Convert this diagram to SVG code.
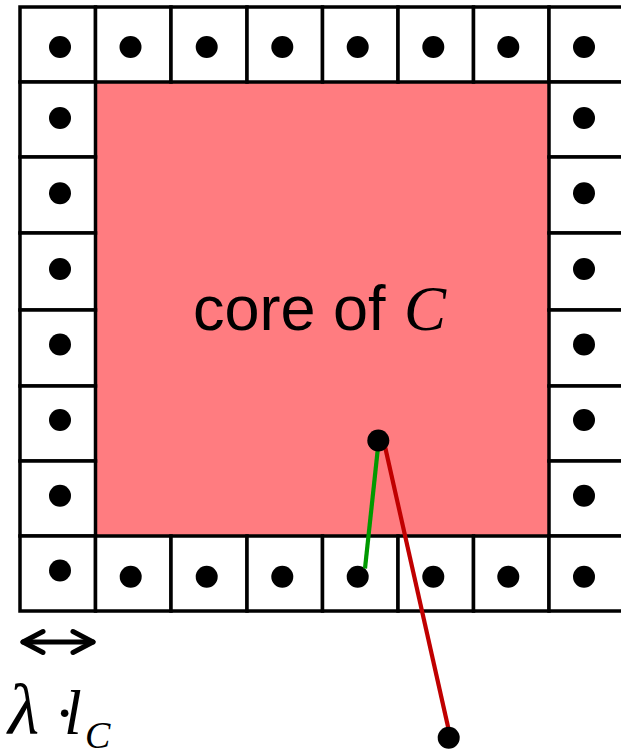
<svg xmlns="http://www.w3.org/2000/svg" width="621" height="750" viewBox="0 0 621 750">
<style>
.cell{fill:#fff;stroke:#000;stroke-width:3.5}
.dot{fill:#000}
.lbl{font-family:"Liberation Sans",Arial,sans-serif;fill:#000}
.math{font-family:"Liberation Serif","Times New Roman",serif;font-style:italic;fill:#000}
</style>
<defs>
<marker id="chev" viewBox="-26 -14 30 28" markerWidth="30" markerHeight="28" refX="0" refY="0" orient="auto-start-reverse" markerUnits="userSpaceOnUse">
<path d="M-20,-10.5 L0,0 L-20,10.5" fill="none" stroke="#000" stroke-width="5" stroke-linecap="round" stroke-linejoin="round"/>
</marker>
</defs>
<rect width="621" height="750" fill="#fff"/>
<g id="core">
<rect x="95.5" y="82" width="453.5" height="454" fill="#ff7c80"/>
<text class="lbl" x="193" y="330" font-size="63">core of <tspan class="math" x="404">C</tspan></text>
</g>
<g id="cells">
<g id="t1"><rect class="cell" x="20" y="7" width="75.5" height="75"/><circle class="dot" cx="60" cy="47" r="11"/></g>
<g id="t2"><rect class="cell" x="95.5" y="7" width="75.5" height="75"/><circle class="dot" cx="130.5" cy="47" r="11"/></g>
<g id="t3"><rect class="cell" x="171" y="7" width="76" height="75"/><circle class="dot" cx="206.7" cy="47" r="11"/></g>
<g id="t4"><rect class="cell" x="247" y="7" width="75.5" height="75"/><circle class="dot" cx="282.3" cy="47" r="11"/></g>
<g id="t5"><rect class="cell" x="322.5" y="7" width="75.5" height="75"/><circle class="dot" cx="357.7" cy="47" r="11"/></g>
<g id="t6"><rect class="cell" x="398" y="7" width="75.5" height="75"/><circle class="dot" cx="433.3" cy="47" r="11"/></g>
<g id="t7"><rect class="cell" x="473.5" y="7" width="75.5" height="75"/><circle class="dot" cx="508.3" cy="47" r="11"/></g>
<g id="t8"><rect class="cell" x="549" y="7" width="76" height="75"/><circle class="dot" cx="584" cy="47" r="11"/></g>
<g id="l2"><rect class="cell" x="20" y="82" width="75.5" height="75"/><circle class="dot" cx="60" cy="118" r="11"/></g>
<g id="l3"><rect class="cell" x="20" y="157" width="75.5" height="76"/><circle class="dot" cx="60" cy="193.3" r="11"/></g>
<g id="l4"><rect class="cell" x="20" y="233" width="75.5" height="77"/><circle class="dot" cx="60" cy="269" r="11"/></g>
<g id="l5"><rect class="cell" x="20" y="310" width="75.5" height="76"/><circle class="dot" cx="60" cy="344.5" r="11"/></g>
<g id="l6"><rect class="cell" x="20" y="386" width="75.5" height="75"/><circle class="dot" cx="60" cy="420" r="11"/></g>
<g id="l7"><rect class="cell" x="20" y="461" width="75.5" height="75"/><circle class="dot" cx="60" cy="495.7" r="11"/></g>
<g id="r2"><rect class="cell" x="549" y="82" width="76" height="75"/><circle class="dot" cx="584" cy="118" r="11"/></g>
<g id="r3"><rect class="cell" x="549" y="157" width="76" height="76"/><circle class="dot" cx="584" cy="193.3" r="11"/></g>
<g id="r4"><rect class="cell" x="549" y="233" width="76" height="77"/><circle class="dot" cx="584" cy="269" r="11"/></g>
<g id="r5"><rect class="cell" x="549" y="310" width="76" height="76"/><circle class="dot" cx="584" cy="344.5" r="11"/></g>
<g id="r6"><rect class="cell" x="549" y="386" width="76" height="75"/><circle class="dot" cx="584" cy="420" r="11"/></g>
<g id="r7"><rect class="cell" x="549" y="461" width="76" height="75"/><circle class="dot" cx="584" cy="495.7" r="11"/></g>
<g id="b1"><rect class="cell" x="20" y="536" width="75.5" height="75"/><circle class="dot" cx="60" cy="570.5" r="11"/></g>
<g id="b2"><rect class="cell" x="95.5" y="536" width="75.5" height="75"/><circle class="dot" cx="130.7" cy="576.7" r="11"/></g>
<g id="b3"><rect class="cell" x="171" y="536" width="76" height="75"/><circle class="dot" cx="206.7" cy="576.7" r="11"/></g>
<g id="b4"><rect class="cell" x="247" y="536" width="75.5" height="75"/><circle class="dot" cx="282.3" cy="576.7" r="11"/></g>
<g id="b5"><rect class="cell" x="322.5" y="536" width="75.5" height="75"/><circle class="dot" cx="357.7" cy="576.7" r="11"/></g>
<g id="b6"><rect class="cell" x="398" y="536" width="75.5" height="75"/><circle class="dot" cx="433.3" cy="576.7" r="11"/></g>
<g id="b7"><rect class="cell" x="473.5" y="536" width="75.5" height="75"/><circle class="dot" cx="508.3" cy="576.7" r="11"/></g>
<g id="b8"><rect class="cell" x="549" y="536" width="76" height="75"/><circle class="dot" cx="584" cy="576.7" r="11"/></g>
</g>
<g id="connectors" fill="none" stroke-width="4.2">
<line x1="377.7" y1="450" x2="365" y2="568.5" stroke="#009900"/>
<line x1="385" y1="446.5" x2="448.3" y2="728" stroke="#c00000"/>
<line x1="23" y1="642" x2="93" y2="642" stroke="#000" stroke-width="5" stroke-linecap="round" marker-start="url(#chev)" marker-end="url(#chev)"/>
</g>
<g id="core-point"><circle class="dot" cx="378.3" cy="440.5" r="11"/></g>
<g id="outer-point"><circle class="dot" cx="448.7" cy="737.7" r="11"/></g>
<g id="scale-label">
<text class="math" font-size="64"><tspan x="8" y="734" font-size="72">λ</tspan><tspan x="54" y="734" font-style="normal">·</tspan><tspan x="64" y="734">l</tspan><tspan x="85" y="748" font-size="38">C</tspan></text>
</g>
</svg>
